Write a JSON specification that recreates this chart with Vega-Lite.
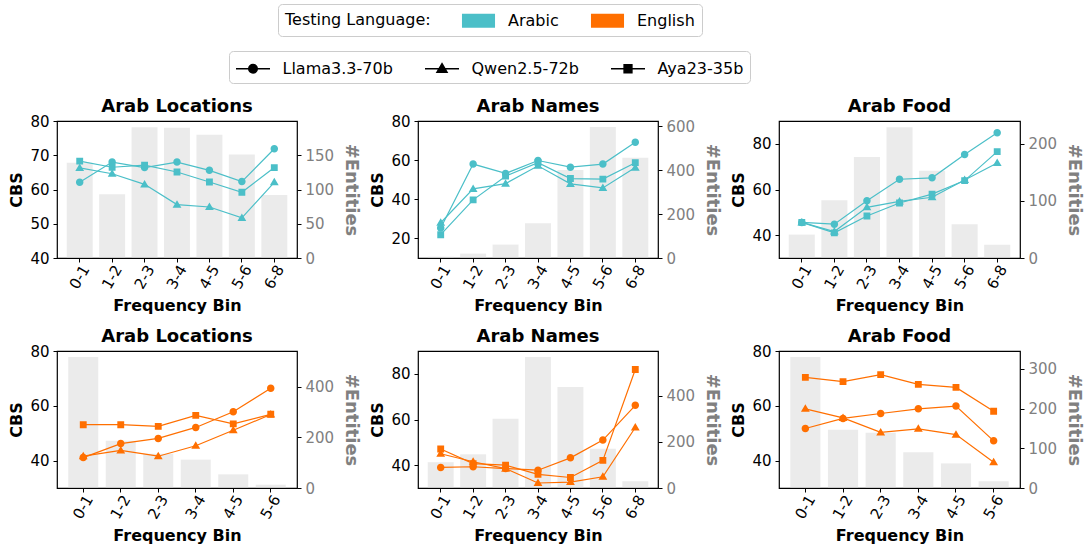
{
  "$schema": "https://vega.github.io/schema/vega-lite/v6.json",
  "padding": {"left": 8, "top": 3, "right": 5, "bottom": 5},
  "datasets": {
    "lines": [
      {"p":"ar_loc","lang":"Arabic","bin":"0-1","model":"Llama3.3-70b","cbs":62.1},
      {"p":"ar_loc","lang":"Arabic","bin":"1-2","model":"Llama3.3-70b","cbs":68.0},
      {"p":"ar_loc","lang":"Arabic","bin":"2-3","model":"Llama3.3-70b","cbs":66.4},
      {"p":"ar_loc","lang":"Arabic","bin":"3-4","model":"Llama3.3-70b","cbs":68.0},
      {"p":"ar_loc","lang":"Arabic","bin":"4-5","model":"Llama3.3-70b","cbs":65.6},
      {"p":"ar_loc","lang":"Arabic","bin":"5-6","model":"Llama3.3-70b","cbs":62.3},
      {"p":"ar_loc","lang":"Arabic","bin":"6-8","model":"Llama3.3-70b","cbs":71.9},
      {"p":"ar_loc","lang":"Arabic","bin":"0-1","model":"Qwen2.5-72b","cbs":66.3},
      {"p":"ar_loc","lang":"Arabic","bin":"1-2","model":"Qwen2.5-72b","cbs":64.6},
      {"p":"ar_loc","lang":"Arabic","bin":"2-3","model":"Qwen2.5-72b","cbs":61.5},
      {"p":"ar_loc","lang":"Arabic","bin":"3-4","model":"Qwen2.5-72b","cbs":55.6},
      {"p":"ar_loc","lang":"Arabic","bin":"4-5","model":"Qwen2.5-72b","cbs":54.9},
      {"p":"ar_loc","lang":"Arabic","bin":"5-6","model":"Qwen2.5-72b","cbs":51.7},
      {"p":"ar_loc","lang":"Arabic","bin":"6-8","model":"Qwen2.5-72b","cbs":62.1},
      {"p":"ar_loc","lang":"Arabic","bin":"0-1","model":"Aya23-35b","cbs":68.3},
      {"p":"ar_loc","lang":"Arabic","bin":"1-2","model":"Aya23-35b","cbs":66.5},
      {"p":"ar_loc","lang":"Arabic","bin":"2-3","model":"Aya23-35b","cbs":67.1},
      {"p":"ar_loc","lang":"Arabic","bin":"3-4","model":"Aya23-35b","cbs":65.1},
      {"p":"ar_loc","lang":"Arabic","bin":"4-5","model":"Aya23-35b","cbs":62.2},
      {"p":"ar_loc","lang":"Arabic","bin":"5-6","model":"Aya23-35b","cbs":59.2},
      {"p":"ar_loc","lang":"Arabic","bin":"6-8","model":"Aya23-35b","cbs":66.4},

      {"p":"ar_names","lang":"Arabic","bin":"0-1","model":"Llama3.3-70b","cbs":25.3},
      {"p":"ar_names","lang":"Arabic","bin":"1-2","model":"Llama3.3-70b","cbs":58.0},
      {"p":"ar_names","lang":"Arabic","bin":"2-3","model":"Llama3.3-70b","cbs":53.2},
      {"p":"ar_names","lang":"Arabic","bin":"3-4","model":"Llama3.3-70b","cbs":59.8},
      {"p":"ar_names","lang":"Arabic","bin":"4-5","model":"Llama3.3-70b","cbs":56.4},
      {"p":"ar_names","lang":"Arabic","bin":"5-6","model":"Llama3.3-70b","cbs":58.0},
      {"p":"ar_names","lang":"Arabic","bin":"6-8","model":"Llama3.3-70b","cbs":69.2},
      {"p":"ar_names","lang":"Arabic","bin":"0-1","model":"Qwen2.5-72b","cbs":28.0},
      {"p":"ar_names","lang":"Arabic","bin":"1-2","model":"Qwen2.5-72b","cbs":45.3},
      {"p":"ar_names","lang":"Arabic","bin":"2-3","model":"Qwen2.5-72b","cbs":48.0},
      {"p":"ar_names","lang":"Arabic","bin":"3-4","model":"Qwen2.5-72b","cbs":57.1},
      {"p":"ar_names","lang":"Arabic","bin":"4-5","model":"Qwen2.5-72b","cbs":47.9},
      {"p":"ar_names","lang":"Arabic","bin":"5-6","model":"Qwen2.5-72b","cbs":45.8},
      {"p":"ar_names","lang":"Arabic","bin":"6-8","model":"Qwen2.5-72b","cbs":56.2},
      {"p":"ar_names","lang":"Arabic","bin":"0-1","model":"Aya23-35b","cbs":21.9},
      {"p":"ar_names","lang":"Arabic","bin":"1-2","model":"Aya23-35b","cbs":39.7},
      {"p":"ar_names","lang":"Arabic","bin":"2-3","model":"Aya23-35b","cbs":51.8},
      {"p":"ar_names","lang":"Arabic","bin":"3-4","model":"Aya23-35b","cbs":58.7},
      {"p":"ar_names","lang":"Arabic","bin":"4-5","model":"Aya23-35b","cbs":50.6},
      {"p":"ar_names","lang":"Arabic","bin":"5-6","model":"Aya23-35b","cbs":50.3},
      {"p":"ar_names","lang":"Arabic","bin":"6-8","model":"Aya23-35b","cbs":58.7},

      {"p":"ar_food","lang":"Arabic","bin":"0-1","model":"Llama3.3-70b","cbs":45.6},
      {"p":"ar_food","lang":"Arabic","bin":"1-2","model":"Llama3.3-70b","cbs":44.8},
      {"p":"ar_food","lang":"Arabic","bin":"2-3","model":"Llama3.3-70b","cbs":55.1},
      {"p":"ar_food","lang":"Arabic","bin":"3-4","model":"Llama3.3-70b","cbs":64.5},
      {"p":"ar_food","lang":"Arabic","bin":"4-5","model":"Llama3.3-70b","cbs":65.1},
      {"p":"ar_food","lang":"Arabic","bin":"5-6","model":"Llama3.3-70b","cbs":75.3},
      {"p":"ar_food","lang":"Arabic","bin":"6-8","model":"Llama3.3-70b","cbs":84.8},
      {"p":"ar_food","lang":"Arabic","bin":"0-1","model":"Qwen2.5-72b","cbs":45.6},
      {"p":"ar_food","lang":"Arabic","bin":"1-2","model":"Qwen2.5-72b","cbs":41.6},
      {"p":"ar_food","lang":"Arabic","bin":"2-3","model":"Qwen2.5-72b","cbs":52.2},
      {"p":"ar_food","lang":"Arabic","bin":"3-4","model":"Qwen2.5-72b","cbs":54.8},
      {"p":"ar_food","lang":"Arabic","bin":"4-5","model":"Qwen2.5-72b","cbs":56.6},
      {"p":"ar_food","lang":"Arabic","bin":"5-6","model":"Qwen2.5-72b","cbs":64.2},
      {"p":"ar_food","lang":"Arabic","bin":"6-8","model":"Qwen2.5-72b","cbs":71.6},
      {"p":"ar_food","lang":"Arabic","bin":"0-1","model":"Aya23-35b","cbs":45.6},
      {"p":"ar_food","lang":"Arabic","bin":"1-2","model":"Aya23-35b","cbs":41.0},
      {"p":"ar_food","lang":"Arabic","bin":"2-3","model":"Aya23-35b","cbs":48.4},
      {"p":"ar_food","lang":"Arabic","bin":"3-4","model":"Aya23-35b","cbs":54.1},
      {"p":"ar_food","lang":"Arabic","bin":"4-5","model":"Aya23-35b","cbs":58.0},
      {"p":"ar_food","lang":"Arabic","bin":"5-6","model":"Aya23-35b","cbs":63.9},
      {"p":"ar_food","lang":"Arabic","bin":"6-8","model":"Aya23-35b","cbs":76.6},

      {"p":"en_loc","lang":"English","bin":"0-1","model":"Llama3.3-70b","cbs":41.1},
      {"p":"en_loc","lang":"English","bin":"1-2","model":"Llama3.3-70b","cbs":46.2},
      {"p":"en_loc","lang":"English","bin":"2-3","model":"Llama3.3-70b","cbs":48.1},
      {"p":"en_loc","lang":"English","bin":"3-4","model":"Llama3.3-70b","cbs":52.1},
      {"p":"en_loc","lang":"English","bin":"4-5","model":"Llama3.3-70b","cbs":57.8},
      {"p":"en_loc","lang":"English","bin":"5-6","model":"Llama3.3-70b","cbs":66.4},
      {"p":"en_loc","lang":"English","bin":"0-1","model":"Qwen2.5-72b","cbs":41.6},
      {"p":"en_loc","lang":"English","bin":"1-2","model":"Qwen2.5-72b","cbs":43.7},
      {"p":"en_loc","lang":"English","bin":"2-3","model":"Qwen2.5-72b","cbs":41.6},
      {"p":"en_loc","lang":"English","bin":"3-4","model":"Qwen2.5-72b","cbs":45.4},
      {"p":"en_loc","lang":"English","bin":"4-5","model":"Qwen2.5-72b","cbs":51.1},
      {"p":"en_loc","lang":"English","bin":"5-6","model":"Qwen2.5-72b","cbs":56.8},
      {"p":"en_loc","lang":"English","bin":"0-1","model":"Aya23-35b","cbs":53.1},
      {"p":"en_loc","lang":"English","bin":"1-2","model":"Aya23-35b","cbs":53.1},
      {"p":"en_loc","lang":"English","bin":"2-3","model":"Aya23-35b","cbs":52.5},
      {"p":"en_loc","lang":"English","bin":"3-4","model":"Aya23-35b","cbs":56.5},
      {"p":"en_loc","lang":"English","bin":"4-5","model":"Aya23-35b","cbs":53.4},
      {"p":"en_loc","lang":"English","bin":"5-6","model":"Aya23-35b","cbs":56.9},

      {"p":"en_names","lang":"English","bin":"0-1","model":"Llama3.3-70b","cbs":39.0},
      {"p":"en_names","lang":"English","bin":"1-2","model":"Llama3.3-70b","cbs":39.3},
      {"p":"en_names","lang":"English","bin":"2-3","model":"Llama3.3-70b","cbs":38.5},
      {"p":"en_names","lang":"English","bin":"3-4","model":"Llama3.3-70b","cbs":37.8},
      {"p":"en_names","lang":"English","bin":"4-5","model":"Llama3.3-70b","cbs":43.2},
      {"p":"en_names","lang":"English","bin":"5-6","model":"Llama3.3-70b","cbs":51.0},
      {"p":"en_names","lang":"English","bin":"6-8","model":"Llama3.3-70b","cbs":66.2},
      {"p":"en_names","lang":"English","bin":"0-1","model":"Qwen2.5-72b","cbs":45.0},
      {"p":"en_names","lang":"English","bin":"1-2","model":"Qwen2.5-72b","cbs":41.5},
      {"p":"en_names","lang":"English","bin":"2-3","model":"Qwen2.5-72b","cbs":38.5},
      {"p":"en_names","lang":"English","bin":"3-4","model":"Qwen2.5-72b","cbs":32.2},
      {"p":"en_names","lang":"English","bin":"4-5","model":"Qwen2.5-72b","cbs":32.6},
      {"p":"en_names","lang":"English","bin":"5-6","model":"Qwen2.5-72b","cbs":34.9},
      {"p":"en_names","lang":"English","bin":"6-8","model":"Qwen2.5-72b","cbs":56.5},
      {"p":"en_names","lang":"English","bin":"0-1","model":"Aya23-35b","cbs":47.1},
      {"p":"en_names","lang":"English","bin":"1-2","model":"Aya23-35b","cbs":40.7},
      {"p":"en_names","lang":"English","bin":"2-3","model":"Aya23-35b","cbs":40.0},
      {"p":"en_names","lang":"English","bin":"3-4","model":"Aya23-35b","cbs":36.0},
      {"p":"en_names","lang":"English","bin":"4-5","model":"Aya23-35b","cbs":34.6},
      {"p":"en_names","lang":"English","bin":"5-6","model":"Aya23-35b","cbs":42.1},
      {"p":"en_names","lang":"English","bin":"6-8","model":"Aya23-35b","cbs":81.9},

      {"p":"en_food","lang":"English","bin":"0-1","model":"Llama3.3-70b","cbs":51.7},
      {"p":"en_food","lang":"English","bin":"1-2","model":"Llama3.3-70b","cbs":55.4},
      {"p":"en_food","lang":"English","bin":"2-3","model":"Llama3.3-70b","cbs":57.2},
      {"p":"en_food","lang":"English","bin":"3-4","model":"Llama3.3-70b","cbs":58.9},
      {"p":"en_food","lang":"English","bin":"4-5","model":"Llama3.3-70b","cbs":59.9},
      {"p":"en_food","lang":"English","bin":"5-6","model":"Llama3.3-70b","cbs":47.2},
      {"p":"en_food","lang":"English","bin":"0-1","model":"Qwen2.5-72b","cbs":58.9},
      {"p":"en_food","lang":"English","bin":"1-2","model":"Qwen2.5-72b","cbs":55.6},
      {"p":"en_food","lang":"English","bin":"2-3","model":"Qwen2.5-72b","cbs":50.3},
      {"p":"en_food","lang":"English","bin":"3-4","model":"Qwen2.5-72b","cbs":51.6},
      {"p":"en_food","lang":"English","bin":"4-5","model":"Qwen2.5-72b","cbs":49.5},
      {"p":"en_food","lang":"English","bin":"5-6","model":"Qwen2.5-72b","cbs":39.4},
      {"p":"en_food","lang":"English","bin":"0-1","model":"Aya23-35b","cbs":70.4},
      {"p":"en_food","lang":"English","bin":"1-2","model":"Aya23-35b","cbs":68.8},
      {"p":"en_food","lang":"English","bin":"2-3","model":"Aya23-35b","cbs":71.4},
      {"p":"en_food","lang":"English","bin":"3-4","model":"Aya23-35b","cbs":67.8},
      {"p":"en_food","lang":"English","bin":"4-5","model":"Aya23-35b","cbs":66.7},
      {"p":"en_food","lang":"English","bin":"5-6","model":"Aya23-35b","cbs":58.0}
    ],
    "bars": [
      {"p":"ar_loc","bin":"0-1","n":139},{"p":"ar_loc","bin":"1-2","n":93},{"p":"ar_loc","bin":"2-3","n":191},{"p":"ar_loc","bin":"3-4","n":190},{"p":"ar_loc","bin":"4-5","n":180},{"p":"ar_loc","bin":"5-6","n":151},{"p":"ar_loc","bin":"6-8","n":92},
      {"p":"ar_names","bin":"0-1","n":6},{"p":"ar_names","bin":"1-2","n":20},{"p":"ar_names","bin":"2-3","n":61},{"p":"ar_names","bin":"3-4","n":158},{"p":"ar_names","bin":"4-5","n":400},{"p":"ar_names","bin":"5-6","n":596},{"p":"ar_names","bin":"6-8","n":456},
      {"p":"ar_food","bin":"0-1","n":41},{"p":"ar_food","bin":"1-2","n":101},{"p":"ar_food","bin":"2-3","n":177},{"p":"ar_food","bin":"3-4","n":229},{"p":"ar_food","bin":"4-5","n":153},{"p":"ar_food","bin":"5-6","n":59},{"p":"ar_food","bin":"6-8","n":23},
      {"p":"en_loc","bin":"0-1","n":517},{"p":"en_loc","bin":"1-2","n":187},{"p":"en_loc","bin":"2-3","n":135},{"p":"en_loc","bin":"3-4","n":112},{"p":"en_loc","bin":"4-5","n":54},{"p":"en_loc","bin":"5-6","n":13},
      {"p":"en_names","bin":"0-1","n":112},{"p":"en_names","bin":"1-2","n":146},{"p":"en_names","bin":"2-3","n":300},{"p":"en_names","bin":"3-4","n":568},{"p":"en_names","bin":"4-5","n":438},{"p":"en_names","bin":"5-6","n":170},{"p":"en_names","bin":"6-8","n":29},
      {"p":"en_food","bin":"0-1","n":330},{"p":"en_food","bin":"1-2","n":147},{"p":"en_food","bin":"2-3","n":139},{"p":"en_food","bin":"3-4","n":90},{"p":"en_food","bin":"4-5","n":62},{"p":"en_food","bin":"5-6","n":17}
    ]
  },
  "columns": 3,
  "spacing": {"row": 93, "column": 121},
  "bounds": "flush",
  "concat": [
    {
      "title": {"text": "Arab Locations", "offset": -2}, "width": 240, "height": 137,
      "layer": [
        {"data": {"name": "bars"}, "transform": [{"filter": "datum.p === 'ar_loc'"}],
         "mark": {"type": "bar", "color": "#d3d3d3", "opacity": 0.45},
         "encoding": {
           "x": {"field": "bin", "type": "nominal", "sort": null, "title": "Frequency Bin", "scale": {"paddingInner": 0.2, "paddingOuter": 0.3}},
           "y": {"field": "n", "type": "quantitative", "title": "#Entities", "scale": {"domain": [0, 200], "nice": false}, "axis": {"orient": "right", "values": [0, 50, 100, 150]}}
         }},
        {"data": {"name": "lines"}, "transform": [{"filter": "datum.p === 'ar_loc'"}],
         "encoding": {
           "x": {"field": "bin", "type": "nominal", "sort": null, "title": "Frequency Bin"},
           "y": {"field": "cbs", "type": "quantitative", "title": "CBS", "scale": {"domain": [40, 80], "nice": false, "zero": false}, "axis": {"orient": "left", "values": [40, 50, 60, 70, 80]}},
           "color": {"field": "lang", "type": "nominal", "scale": {"domain": ["Arabic", "English"], "range": ["#4bbfc8", "#ff6f00"]},
             "legend": {"legendX": 221, "legendY": -117, "columns": 2, "title": "Testing Language:", "titleOrient": "left", "titleFontSize": 16, "titleFontWeight": "normal", "titleColor": "#000000", "titlePadding": 31, "titleBaseline": "middle", "titleAnchor": "middle", "symbolType": "M-1.74,-0.74H1.74V0.74H-1.74Z", "symbolSize": 361, "symbolOffset": 7, "symbolStrokeWidth": 0, "symbolOpacity": 1, "labelOffset": 20, "columnPadding": 31, "padding": 7}}
         },
         "layer": [
           {"mark": {"type": "line", "strokeWidth": 1.2}, "encoding": {"detail": {"field": "model"}}},
           {"mark": {"type": "point", "filled": true, "size": 343, "opacity": 1, "strokeWidth": 0},
            "encoding": {"shape": {"field": "model", "type": "nominal",
              "scale": {"domain": ["Llama3.3-70b", "Qwen2.5-72b", "Aya23-35b"], "range": ["M-1.62,0H1.62M0.405,0A0.405,0.405,0,1,1,-0.405,0A0.405,0.405,0,1,1,0.405,0Z", "M-1.62,0H1.62M0,-0.48L0.476,0.33L-0.476,0.33Z", "M-1.62,0H1.62M-0.37,-0.37H0.37V0.37H-0.37Z"]},
              "legend": {"legendX": 172, "legendY": -70, "columns": 3, "title": null, "symbolSize": 441, "symbolOffset": 6.5, "symbolFillColor": "#000000", "symbolStrokeColor": "#000000", "symbolStrokeWidth": 1.5, "symbolOpacity": 1, "labelOffset": 18, "columnPadding": 28, "padding": 6,
                "encode": {"symbols": {"update": {"size": {"value": 441}, "fill": {"value": "#000000"}, "stroke": {"value": "#000000"}, "strokeWidth": {"value": 1.5}, "opacity": {"value": 1}}}}}}}}
         ]}
      ],
      "resolve": {"scale": {"y": "independent"}}
    },
    {
      "title": {"text": "Arab Names", "offset": -2}, "width": 240, "height": 137,
      "layer": [
        {"data": {"name": "bars"}, "transform": [{"filter": "datum.p === 'ar_names'"}],
         "mark": {"type": "bar", "color": "#d3d3d3", "opacity": 0.45},
         "encoding": {
           "x": {"field": "bin", "type": "nominal", "sort": null, "title": "Frequency Bin", "scale": {"paddingInner": 0.2, "paddingOuter": 0.3}},
           "y": {"field": "n", "type": "quantitative", "title": "#Entities", "scale": {"domain": [0, 623], "nice": false}, "axis": {"orient": "right", "values": [0, 200, 400, 600]}}
         }},
        {"data": {"name": "lines"}, "transform": [{"filter": "datum.p === 'ar_names'"}],
         "encoding": {
           "x": {"field": "bin", "type": "nominal", "sort": null, "title": "Frequency Bin"},
           "y": {"field": "cbs", "type": "quantitative", "title": "CBS", "scale": {"domain": [10, 80], "nice": false, "zero": false}, "axis": {"orient": "left", "values": [20, 40, 60, 80]}},
           "color": {"field": "lang", "type": "nominal", "scale": {"domain": ["Arabic", "English"], "range": ["#4bbfc8", "#ff6f00"]}}
         },
         "layer": [
           {"mark": {"type": "line", "strokeWidth": 1.2}, "encoding": {"detail": {"field": "model"}}},
           {"mark": {"type": "point", "filled": true, "size": 343, "opacity": 1, "strokeWidth": 0},
            "encoding": {"shape": {"field": "model", "type": "nominal", "scale": {"domain": ["Llama3.3-70b", "Qwen2.5-72b", "Aya23-35b"]}}}}
         ]}
      ],
      "resolve": {"scale": {"y": "independent"}}
    },
    {
      "title": {"text": "Arab Food", "offset": 5}, "width": 241, "height": 137,
      "layer": [
        {"data": {"name": "bars"}, "transform": [{"filter": "datum.p === 'ar_food'"}],
         "mark": {"type": "bar", "color": "#d3d3d3", "opacity": 0.45},
         "encoding": {
           "x": {"field": "bin", "type": "nominal", "sort": null, "title": "Frequency Bin", "scale": {"paddingInner": 0.2, "paddingOuter": 0.3}},
           "y": {"field": "n", "type": "quantitative", "title": "#Entities", "scale": {"domain": [0, 240], "nice": false}, "axis": {"orient": "right", "values": [0, 100, 200]}}
         }},
        {"data": {"name": "lines"}, "transform": [{"filter": "datum.p === 'ar_food'"}],
         "encoding": {
           "x": {"field": "bin", "type": "nominal", "sort": null, "title": "Frequency Bin"},
           "y": {"field": "cbs", "type": "quantitative", "title": "CBS", "scale": {"domain": [30, 90], "nice": false, "zero": false}, "axis": {"orient": "left", "values": [40, 60, 80]}},
           "color": {"field": "lang", "type": "nominal", "scale": {"domain": ["Arabic", "English"], "range": ["#4bbfc8", "#ff6f00"]}}
         },
         "layer": [
           {"mark": {"type": "line", "strokeWidth": 1.2}, "encoding": {"detail": {"field": "model"}}},
           {"mark": {"type": "point", "filled": true, "size": 343, "opacity": 1, "strokeWidth": 0},
            "encoding": {"shape": {"field": "model", "type": "nominal", "scale": {"domain": ["Llama3.3-70b", "Qwen2.5-72b", "Aya23-35b"]}}}}
         ]}
      ],
      "resolve": {"scale": {"y": "independent"}}
    },
    {
      "title": {"text": "Arab Locations", "offset": -2}, "width": 240, "height": 137,
      "layer": [
        {"data": {"name": "bars"}, "transform": [{"filter": "datum.p === 'en_loc'"}],
         "mark": {"type": "bar", "color": "#d3d3d3", "opacity": 0.45},
         "encoding": {
           "x": {"field": "bin", "type": "nominal", "sort": null, "title": "Frequency Bin", "scale": {"paddingInner": 0.2, "paddingOuter": 0.3}},
           "y": {"field": "n", "type": "quantitative", "title": "#Entities", "scale": {"domain": [0, 541], "nice": false}, "axis": {"orient": "right", "values": [0, 200, 400]}}
         }},
        {"data": {"name": "lines"}, "transform": [{"filter": "datum.p === 'en_loc'"}],
         "encoding": {
           "x": {"field": "bin", "type": "nominal", "sort": null, "title": "Frequency Bin"},
           "y": {"field": "cbs", "type": "quantitative", "title": "CBS", "scale": {"domain": [30, 80], "nice": false, "zero": false}, "axis": {"orient": "left", "values": [40, 50, 60, 70, 80], "labelExpr": "datum.value % 20 === 0 ? datum.label : ''", "tickOpacity": {"condition": {"test": "datum.value % 20 === 0", "value": 1}, "value": 0}}},
           "color": {"field": "lang", "type": "nominal", "scale": {"domain": ["Arabic", "English"], "range": ["#4bbfc8", "#ff6f00"]}}
         },
         "layer": [
           {"mark": {"type": "line", "strokeWidth": 1.2}, "encoding": {"detail": {"field": "model"}}},
           {"mark": {"type": "point", "filled": true, "size": 343, "opacity": 1, "strokeWidth": 0},
            "encoding": {"shape": {"field": "model", "type": "nominal", "scale": {"domain": ["Llama3.3-70b", "Qwen2.5-72b", "Aya23-35b"]}}}}
         ]}
      ],
      "resolve": {"scale": {"y": "independent"}}
    },
    {
      "title": {"text": "Arab Names", "offset": 5}, "width": 240, "height": 137,
      "layer": [
        {"data": {"name": "bars"}, "transform": [{"filter": "datum.p === 'en_names'"}],
         "mark": {"type": "bar", "color": "#d3d3d3", "opacity": 0.45},
         "encoding": {
           "x": {"field": "bin", "type": "nominal", "sort": null, "title": "Frequency Bin", "scale": {"paddingInner": 0.2, "paddingOuter": 0.3}},
           "y": {"field": "n", "type": "quantitative", "title": "#Entities", "scale": {"domain": [0, 594], "nice": false}, "axis": {"orient": "right", "values": [0, 200, 400]}}
         }},
        {"data": {"name": "lines"}, "transform": [{"filter": "datum.p === 'en_names'"}],
         "encoding": {
           "x": {"field": "bin", "type": "nominal", "sort": null, "title": "Frequency Bin"},
           "y": {"field": "cbs", "type": "quantitative", "title": "CBS", "scale": {"domain": [30, 90], "nice": false, "zero": false}, "axis": {"orient": "left", "values": [40, 50, 60, 70, 80], "labelExpr": "datum.value % 20 === 0 ? datum.label : ''", "tickOpacity": {"condition": {"test": "datum.value % 20 === 0", "value": 1}, "value": 0}}},
           "color": {"field": "lang", "type": "nominal", "scale": {"domain": ["Arabic", "English"], "range": ["#4bbfc8", "#ff6f00"]}}
         },
         "layer": [
           {"mark": {"type": "line", "strokeWidth": 1.2}, "encoding": {"detail": {"field": "model"}}},
           {"mark": {"type": "point", "filled": true, "size": 343, "opacity": 1, "strokeWidth": 0},
            "encoding": {"shape": {"field": "model", "type": "nominal", "scale": {"domain": ["Llama3.3-70b", "Qwen2.5-72b", "Aya23-35b"]}}}}
         ]}
      ],
      "resolve": {"scale": {"y": "independent"}}
    },
    {
      "title": {"text": "Arab Food", "offset": -2}, "width": 241, "height": 137,
      "layer": [
        {"data": {"name": "bars"}, "transform": [{"filter": "datum.p === 'en_food'"}],
         "mark": {"type": "bar", "color": "#d3d3d3", "opacity": 0.45},
         "encoding": {
           "x": {"field": "bin", "type": "nominal", "sort": null, "title": "Frequency Bin", "scale": {"paddingInner": 0.2, "paddingOuter": 0.3}},
           "y": {"field": "n", "type": "quantitative", "title": "#Entities", "scale": {"domain": [0, 345], "nice": false}, "axis": {"orient": "right", "values": [0, 100, 200, 300]}}
         }},
        {"data": {"name": "lines"}, "transform": [{"filter": "datum.p === 'en_food'"}],
         "encoding": {
           "x": {"field": "bin", "type": "nominal", "sort": null, "title": "Frequency Bin"},
           "y": {"field": "cbs", "type": "quantitative", "title": "CBS", "scale": {"domain": [30, 80], "nice": false, "zero": false}, "axis": {"orient": "left", "values": [40, 50, 60, 70, 80], "labelExpr": "datum.value % 20 === 0 ? datum.label : ''", "tickOpacity": {"condition": {"test": "datum.value % 20 === 0", "value": 1}, "value": 0}}},
           "color": {"field": "lang", "type": "nominal", "scale": {"domain": ["Arabic", "English"], "range": ["#4bbfc8", "#ff6f00"]}}
         },
         "layer": [
           {"mark": {"type": "line", "strokeWidth": 1.2}, "encoding": {"detail": {"field": "model"}}},
           {"mark": {"type": "point", "filled": true, "size": 343, "opacity": 1, "strokeWidth": 0},
            "encoding": {"shape": {"field": "model", "type": "nominal", "scale": {"domain": ["Llama3.3-70b", "Qwen2.5-72b", "Aya23-35b"]}}}}
         ]}
      ],
      "resolve": {"scale": {"y": "independent"}}
    }
  ],
  "config": {
    "font": "DejaVu Sans",
    "view": {"stroke": "#000000", "strokeWidth": 1.2},
    "axis": {"domain": false, "tickColor": "#000000", "tickSize": 4, "tickWidth": 1, "labelFontSize": 15, "labelColor": "#000000", "titleFontSize": 16, "titleFontWeight": "bold", "titleColor": "#000000", "gridColor": "#d2d2d2", "gridDash": [5, 2.5], "gridWidth": 1, "labelPadding": 4},
    "axisX": {"labelAngle": -60, "labelAlign": "right", "labelBaseline": "middle", "labelOffset": 6, "titlePadding": 6, "grid": false},
    "axisLeft": {"grid": true, "titlePadding": 5},
    "axisRight": {"grid": false, "labelColor": "#808080", "titleColor": "#808080", "titleFontSize": 18, "titlePadding": 8},
    "title": {"fontSize": 18, "fontWeight": "bold", "color": "#000000", "frame": "group"},
    "legend": {"orient": "none", "direction": "horizontal", "labelFontSize": 16, "labelColor": "#000000", "strokeColor": "#cccccc", "fillColor": "#ffffff", "cornerRadius": 4}
  }
}
